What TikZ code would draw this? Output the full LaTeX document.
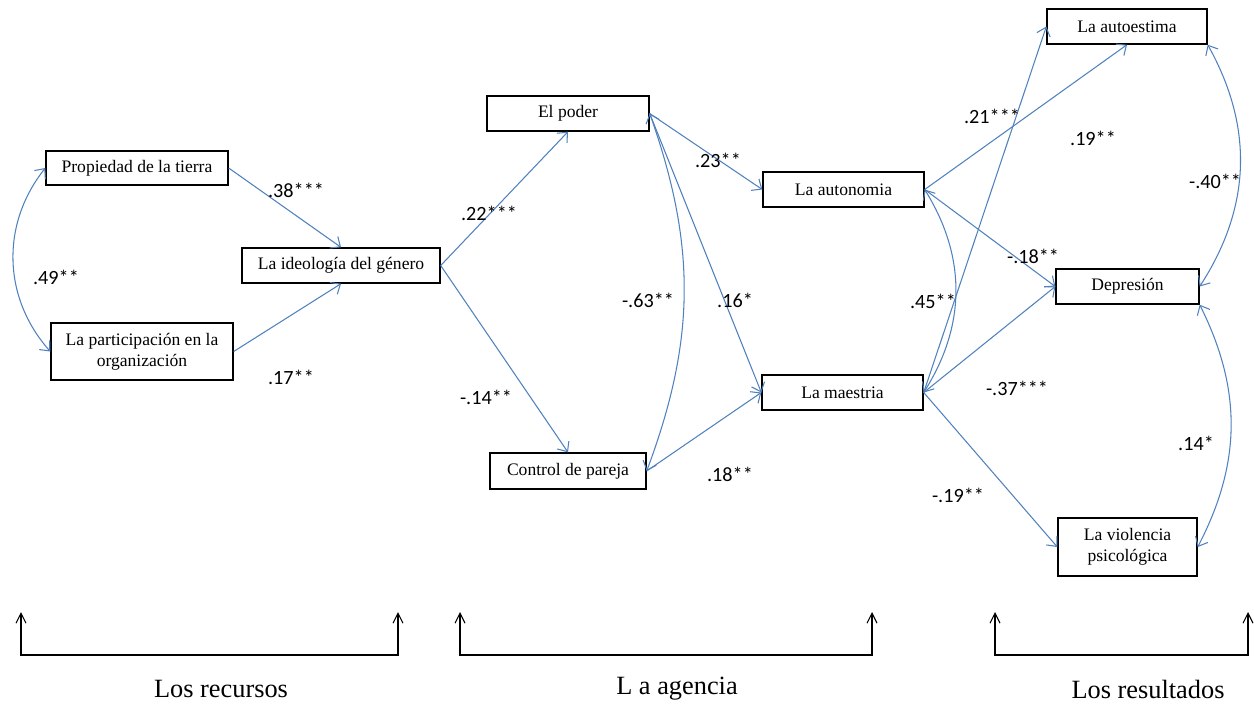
\documentclass[tikz,border=0pt]{standalone}
\usepackage{fontspec}
\setmainfont{Liberation Serif}
\setsansfont{Carlito}
\usetikzlibrary{arrows.meta}
\definecolor{pathblue}{RGB}{79,129,189}

\begin{document}
\begin{tikzpicture}
          [ x=0.02cm, y=-0.02cm,
            element/.style={
              rectangle,
              draw,
              line width=0.8pt,
              minimum height=0.7cm,
              inner sep=1pt,
              align=center,
              font=\fontsize{10}{12}\selectfont},
            line/.style={
              draw=pathblue,
              line width=0.6pt,
              -{Straight Barb[length=1.6mm,width=2.8mm]}},
            both/.style={
              line,
              {Straight Barb[length=1.6mm,width=2.8mm]}-{Straight Barb[length=1.6mm,width=2.8mm]}},
            coef/.style={
              inner sep=0pt,
              font=\sffamily\fontsize{11.5}{13}\selectfont},
            bracket/.style={
              draw,
              line width=0.6pt,
              {Straight Barb[length=2mm,width=2mm]}-{Straight Barb[length=2mm,width=2mm]}},
            group/.style={
              inner sep=0pt,
              font=\fontsize{15}{18}\selectfont},
          ]

          \useasboundingbox (0,0) rectangle (1254,707);

          \node (land) [element, minimum width=3.64cm, minimum height=0.68cm] at (137,168) {Propiedad de la tierra};
          \node (org) [element, minimum width=3.64cm, minimum height=1.14cm] at (142,351.5) {La participación en la\\organización};
          \node (ideo) [element, minimum width=3.96cm] at (341,265.5) {La ideología del género};
          \node (power) [element, minimum width=3.24cm] at (568,113.5) {El poder};
          \node (control) [element, minimum width=3.12cm, minimum height=0.72cm] at (568,471) {Control de pareja};
          \node (auton) [element, minimum width=3.22cm] at (843.5,189.5) {La autonomia};
          \node (mast) [element, minimum width=3.22cm] at (842.5,392.5) {La maestria};
          \node (esteem) [element, minimum width=3.2cm] at (1127,26.5) {La autoestima};
          \node (depr) [element, minimum width=2.86cm] at (1127.5,286.5) {Depresión};
          \node (viol) [element, minimum width=2.78cm, minimum height=1.16cm] at (1127.5,547) {La violencia\\psicológica};

          \draw[line] (land.east) -- (ideo.north);
          \draw[line] (org.east) -- (ideo.south);
          \draw[both] (land.west) to[bend right=40] (org.west);
          \draw[line] (ideo.east) -- (power.south);
          \draw[line] (ideo.east) -- (control.north);
          \draw[both] (power.east) to[bend left=20] (control.east);
          \draw[line] (power.east) -- (auton.west);
          \draw[line] (power.east) -- (mast.west);
          \draw[line] (control.east) -- (mast.west);
          \draw[line] (auton.east) -- (esteem.south);
          \draw[line] (auton.east) -- (depr.west);
          \draw[both] (auton.east) to[bend left=32] (mast.east);
          \draw[line] (mast.east) -- (esteem.west);
          \draw[line] (mast.east) -- (depr.west);
          \draw[line] (mast.east) -- (viol.west);
          \draw[both] (esteem.south east) to[bend left=31] (depr.east);
          \draw[both] (depr.south east) to[bend left=27] (viol.east);

          \node[coef] (c38) at (296,190) {.38***};
          \node[coef] (c49) at (56,277) {.49**};
          \node[coef] (c17) at (291,377) {.17**};
          \node[coef] (c22) at (489,213) {.22***};
          \node[coef] (c14n) at (486,397) {-.14**};
          \node[coef] (c23) at (718,160) {.23**};
          \node[coef] (c63) at (648,300) {-.63**};
          \node[coef] (c16) at (735,300) {.16*};
          \node[coef] (c18) at (730,474) {.18**};
          \node[coef] (c21) at (992,116) {.21***};
          \node[coef] (c19) at (1093,138) {.19**};
          \node[coef] (c40) at (1215,181) {-.40**};
          \node[coef] (c18n) at (1033,256) {-.18**};
          \node[coef] (c45) at (933,301) {.45**};
          \node[coef] (c37) at (1017,388) {-.37***};
          \node[coef] (c14) at (1196,443) {.14*};
          \node[coef] (c19n) at (958,495) {-.19**};

          \coordinate (res-a) at (21,612);
          \coordinate (res-b) at (398,612);
          \coordinate (age-a) at (460,612);
          \coordinate (age-b) at (872,612);
          \coordinate (out-a) at (995,612);
          \coordinate (out-b) at (1248,612);

          \draw[bracket] (res-a) -- ++(0,43) -| (res-b);
          \draw[bracket] (age-a) -- ++(0,43) -| (age-b);
          \draw[bracket] (out-a) -- ++(0,43) -| (out-b);

          \node[group] (res) at (221,689) {Los recursos};
          \node[group] (age) at (677,689) {L a agencia};
          \node[group] (out) at (1148,689) {Los resultados};

        \end{tikzpicture}
\end{document}
